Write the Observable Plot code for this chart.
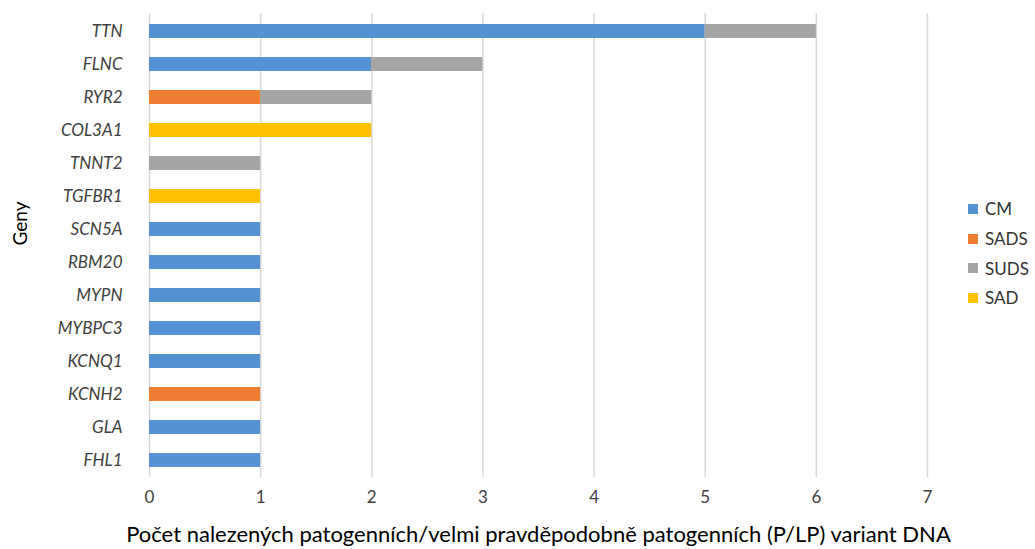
<!DOCTYPE html>
<html><head><meta charset="utf-8">
<script src="https://cdn.jsdelivr.net/npm/d3@7"></script>
<script src="https://cdn.jsdelivr.net/npm/@observablehq/plot@0.6"></script>
<style>
html,body{margin:0;padding:0;background:#fff;}
#wrap{position:relative;width:1035px;height:549px;overflow:hidden;font-family:Lato,"Open Sans",sans-serif;}
#legend{position:absolute;left:968px;top:194px;font-size:17px;color:#333;}
#legend div{display:flex;align-items:center;height:29.7px;}
#legend span.sw{display:inline-block;width:10px;height:10px;margin-right:7px;}
</style></head>
<body><div id="wrap"></div>
<script>
const genes = ["TTN","FLNC","RYR2","COL3A1","TNNT2","TGFBR1","SCN5A","RBM20","MYPN","MYBPC3","KCNQ1","KCNH2","GLA","FHL1"];
const series = ["CM","SADS","SUDS","SAD"];
const colors = ["#5592d3","#ed7d31","#a5a5a5","#ffc000"];
const cm   = [5,2,0,0,0,0,1,1,1,1,1,0,1,1];
const sads = [0,0,1,0,0,0,0,0,0,0,0,1,0,0];
const suds = [1,1,1,0,1,0,0,0,0,0,0,0,0,0];
const sad  = [0,0,0,2,0,1,0,0,0,0,0,0,0,0];
const xTicks = [0,1,2,3,4,5,6,7];
const xTitle = "Počet nalezených patogenních/velmi pravděpodobně patogenních (P/LP) variant DNA";
const yTitle = "Geny";

const vals = [cm, sads, suds, sad];
const data = [];
series.forEach((s, si) => genes.forEach((g, gi) => {
  if (vals[si][gi] > 0) data.push({gene: g, series: s, value: vals[si][gi]});
}));

const chart = Plot.plot({
  width: 1035, height: 549,
  marginLeft: 149, marginRight: 108, marginTop: 13, marginBottom: 72,
  style: {fontFamily: "Lato, 'Open Sans', sans-serif", fontSize: "17px", color: "#404040", background: "#fff"},
  x: {domain: [0, 7], ticks: xTicks},
  y: {domain: genes, paddingInner: 0.58, paddingOuter: 0.29},
  color: {domain: series, range: colors},
  marks: [
    Plot.ruleX(xTicks, {stroke: "#d9d9d9", strokeWidth: 1.5}),
    Plot.barX(data, Plot.stackX({y: "gene", x: "value", fill: "series", order: series})),
    Plot.axisX({ticks: xTicks, tickFormat: "d", tickSize: 0, tickPadding: 13, label: null, fontSize: 17}),
    Plot.axisY({tickSize: 0, tickPadding: 27, label: null, fontStyle: "italic", fontSize: 17}),
    Plot.text([xTitle], {frameAnchor: "bottom", dy: 64, fontSize: 22, fill: "#000"}),
    Plot.text([yTitle], {frameAnchor: "left", dx: -129, rotate: -90, fontSize: 19, fill: "#000"})
  ]
});
const wrap = document.getElementById("wrap");
wrap.appendChild(chart);
const leg = document.createElement("div");
leg.id = "legend";
series.forEach((s, i) => {
  const d = document.createElement("div");
  d.innerHTML = `<span class="sw" style="background:${colors[i]}"></span>${s}`;
  leg.appendChild(d);
});
wrap.appendChild(leg);
</script></body></html>
